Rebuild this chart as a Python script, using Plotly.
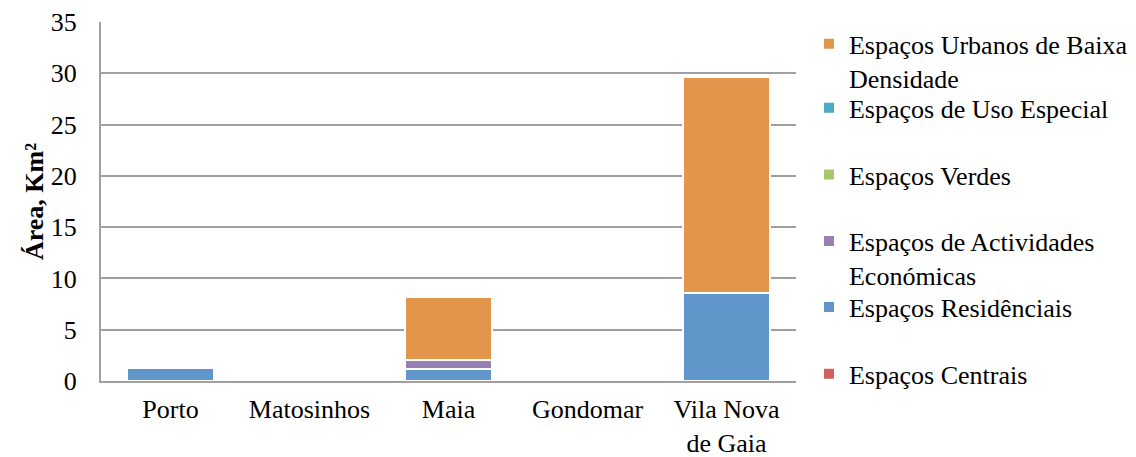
import plotly.graph_objects as go

categories = ["Porto", "Matosinhos", "Maia", "Gondomar", "Vila Nova<br>de Gaia"]

centrais = [0, 0, 0, 0, 0]
residenciais = [1.25, 0, 1.15, 0, 8.6]
actividades = [0, 0, 0.85, 0, 0]
verdes = [0, 0, 0, 0, 0]
uso_especial = [0, 0, 0, 0, 0]
urbanos_baixa = [0, 0, 6.15, 0, 21.05]

series_names = [
    "Espaços Centrais",
    "Espaços Residênciais",
    "Espaços de Actividades<br>Económicas",
    "Espaços Verdes",
    "Espaços de Uso Especial",
    "Espaços Urbanos de Baixa<br>Densidade",
]
series_values = [centrais, residenciais, actividades, verdes, uso_especial, urbanos_baixa]
series_colors = ["#CF625C", "#6096C9", "#9880B5", "#A9C66C", "#4BAAC4", "#E2964C"]

# each legend entry gets its own legend box so entries can be spaced like the original
legend_ids = ["legend6", "legend5", "legend4", "legend3", "legend2", "legend"]
legend_y = [0.0855, 0.2710, 0.4549, 0.6407, 0.8265, 1.0047]

font_family = "Liberation Serif"
FS = 26

fig = go.Figure()
for name, vals, color, lid in zip(series_names, series_values, series_colors, legend_ids):
    fig.add_trace(go.Bar(
        x=categories,
        y=[v if v else None for v in vals],
        name=name,
        legend=lid,
        showlegend=True,
        marker=dict(color=color, line=dict(color="white", width=2)),
    ))

legend_common = dict(
    x=1.0172, xanchor="left", yanchor="top",
    valign="top",
    bgcolor="rgba(0,0,0,0)",
    font=dict(family=font_family, size=FS, color="black"),
)

layout_legends = {}
for lid, ly in zip(legend_ids, legend_y):
    layout_legends[lid] = dict(legend_common, y=ly, visible=True)

fig.update_layout(
    showlegend=True,
    barmode="stack",
    bargap=0.367,
    width=1136,
    height=457,
    margin=dict(l=93, r=347, t=14, b=84),
    paper_bgcolor="white",
    plot_bgcolor="white",
    font=dict(family=font_family, size=FS, color="black"),
    **layout_legends,
    xaxis=dict(
        automargin=False,
        showline=True, linecolor="#A0A0A0", linewidth=2,
        ticks="", showgrid=False,
        ticklabelstandoff=4,
        tickfont=dict(family=font_family, size=FS),
    ),
    yaxis=dict(
        automargin=False,
        range=[0, 35], dtick=5,
        showline=True, linecolor="#A0A0A0", linewidth=2,
        ticks="",
        ticklabelstandoff=17,
        showgrid=True, gridcolor="#A0A0A0", gridwidth=1.5,
        zeroline=False,
        tickfont=dict(family=font_family, size=FS),
        title=dict(text="<b>Área, Km²</b>", font=dict(family=font_family, size=FS), standoff=0),
    ),
)

fig.write_html("out.html")
